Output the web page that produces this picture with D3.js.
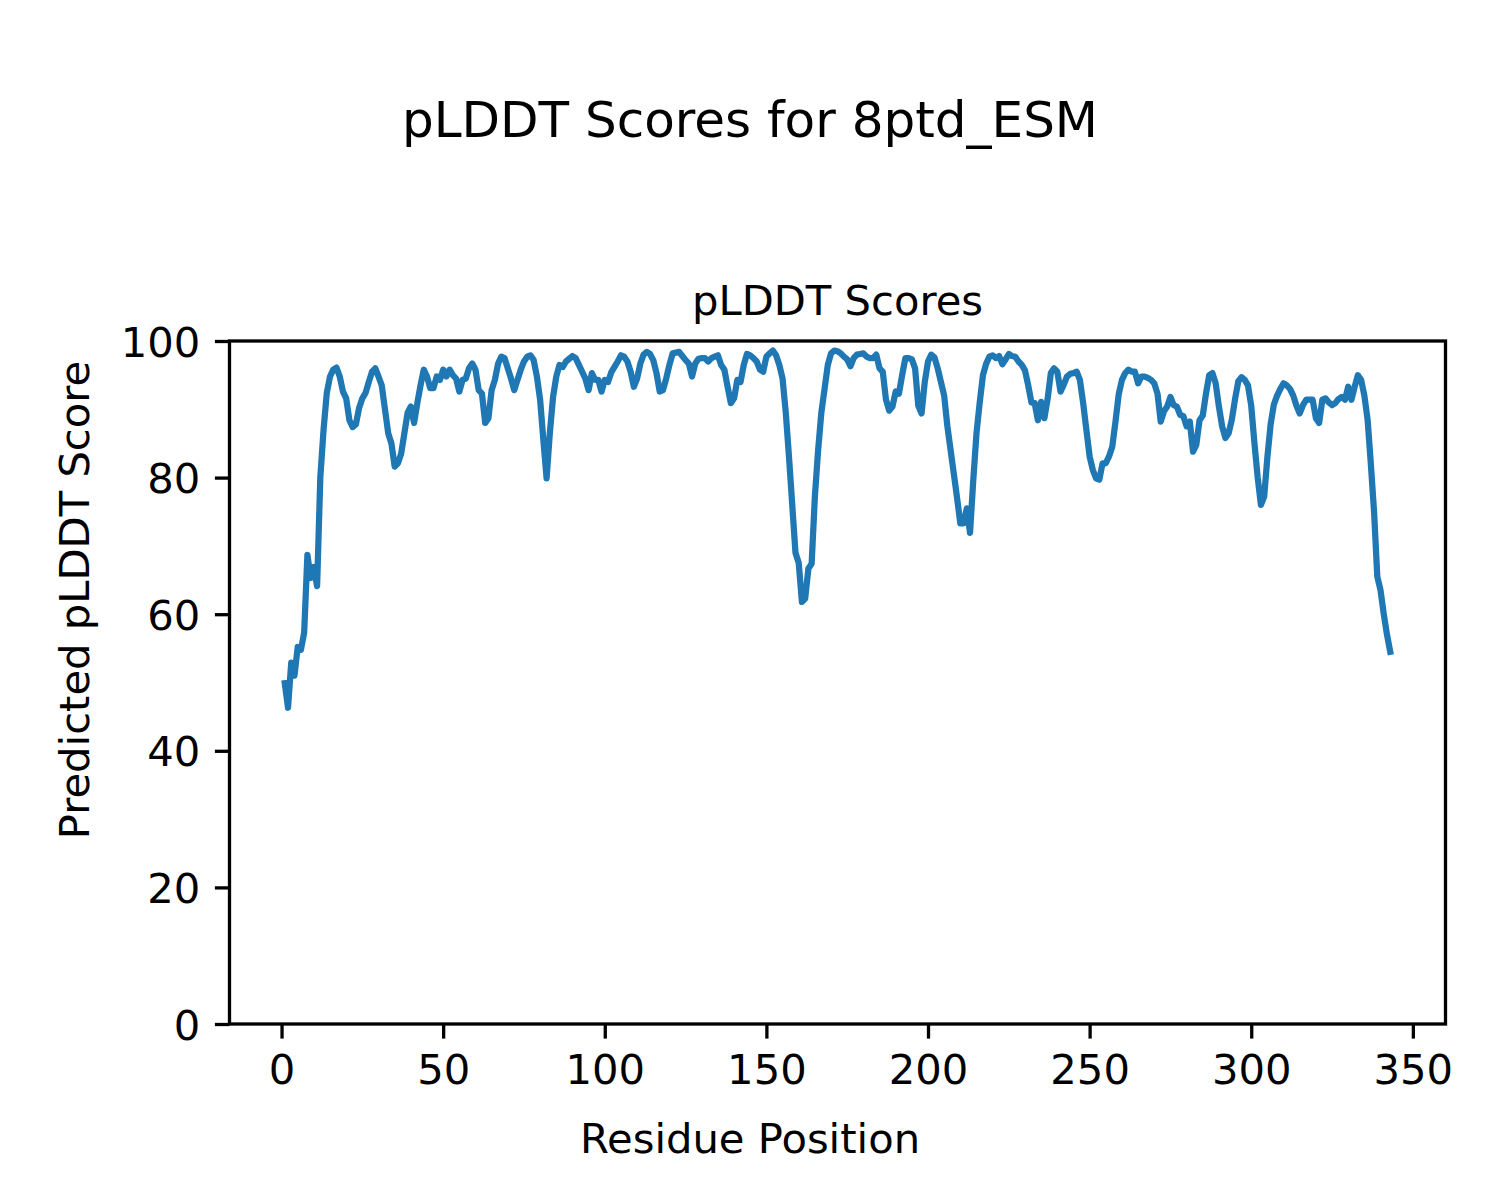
<!DOCTYPE html>
<html>
<head>
<meta charset="utf-8">
<script src="https://cdn.jsdelivr.net/npm/d3@7"></script>
<style>
  html, body { margin: 0; padding: 0; background: #fff; }
  svg { display: block; font-family: "DejaVu Sans", sans-serif; }
</style>
</head>
<body>
<svg id="chart" width="1500" height="1200"></svg>
<script>
// ---- data ----
const suptitle = "pLDDT Scores for 8ptd_ESM";
const axTitle = "pLDDT Scores";
const xLabel = "Residue Position";
const yLabel = "Predicted pLDDT Score";
const xTicks = [0, 50, 100, 150, 200, 250, 300, 350];
const yTicks = [0, 20, 40, 60, 80, 100];
const startResidue = 1;
const plddt = [
  49.9, 46.3, 52.9, 51.0, 55.2, 54.8, 57.3, 68.7, 65.3, 66.9,
  64.1, 80.1, 87.0, 92.4, 94.8, 95.8, 96.1, 94.8, 92.6, 91.6,
  88.4, 87.4, 87.8, 90.2, 91.6, 92.4, 94.0, 95.5, 96.0, 94.8,
  93.5, 90.0, 86.5, 85.0, 81.6, 82.1, 83.5, 86.5, 89.5, 90.4,
  88.0, 90.9, 93.5, 95.8, 94.8, 93.1, 93.1, 94.8, 94.3, 95.8,
  94.8, 95.8, 95.0, 94.5, 92.6, 94.3, 94.5, 96.0, 96.7, 95.8,
  92.8, 92.3, 88.0, 88.7, 92.8, 94.3, 96.7, 97.7, 97.5, 96.0,
  94.5, 92.8, 94.3, 95.8, 97.0, 97.7, 97.9, 97.2, 94.8, 91.4,
  85.5, 79.9, 86.5, 91.8, 94.8, 96.5, 96.2, 97.0, 97.4, 97.8,
  97.5, 96.5, 95.5, 94.5, 92.8, 95.3, 94.3, 94.3, 92.6, 94.3,
  94.0, 95.4, 96.2, 97.0, 97.9, 97.7, 97.0, 95.5, 93.3, 94.5,
  96.7, 98.0, 98.4, 98.1, 97.2, 95.3, 92.6, 92.8, 94.5, 96.5,
  98.2, 98.3, 98.4, 97.8, 97.2, 96.7, 94.8, 96.7, 97.4, 97.5,
  97.5, 97.0, 97.5, 97.7, 97.9, 96.5, 95.8, 93.3, 90.9, 91.6,
  94.3, 94.0, 96.5, 98.1, 97.9, 97.5, 97.0, 95.8, 95.5, 97.7,
  98.2, 98.6, 97.9, 96.5, 94.5, 89.5, 83.0, 76.0, 69.0, 67.5,
  61.8, 62.3, 66.7, 67.4, 77.2, 84.0, 89.5, 93.0, 96.5, 98.2,
  98.6, 98.5, 98.2, 97.7, 97.3, 96.3, 97.5, 98.0, 98.1, 98.2,
  97.7, 97.5, 97.5, 98.0, 96.0, 95.5, 91.4, 89.8, 90.4, 92.6,
  92.3, 95.0, 97.5, 97.5, 97.3, 96.0, 90.5, 89.4, 94.0, 97.0,
  98.0, 97.6, 96.0, 94.0, 92.0, 87.5, 84.0, 80.5, 77.0, 73.3,
  73.3, 75.5, 71.9, 79.6, 86.5, 91.0, 95.0, 96.7, 97.7, 97.9,
  97.5, 97.8, 96.6, 97.3, 98.1, 97.8, 97.7, 97.0, 96.5, 95.7,
  93.5, 91.0, 90.9, 88.4, 91.1, 88.7, 91.5, 95.3, 96.0, 95.5,
  92.6, 93.6, 94.8, 95.2, 95.3, 95.5, 94.3, 90.9, 87.0, 83.1,
  81.1, 79.9, 79.7, 82.1, 82.1, 83.1, 84.5, 88.2, 92.2, 94.3,
  95.3, 95.8, 95.5, 95.5, 93.8, 94.8, 94.8, 94.6, 94.3, 93.8,
  92.3, 88.2, 89.7, 90.4, 91.8, 90.6, 90.4, 89.2, 89.0, 87.5,
  88.2, 83.8, 84.8, 88.4, 89.1, 92.3, 95.0, 95.3, 93.8, 90.4,
  87.5, 85.8, 86.5, 88.5, 91.5, 94.1, 94.7, 94.3, 93.5, 90.5,
  85.0, 80.0, 76.0, 77.2, 83.0, 87.8, 90.7, 92.0, 93.0, 93.8,
  93.5, 93.0, 92.0, 90.5, 89.4, 90.6, 91.4, 91.4, 91.4, 88.7,
  88.0, 91.4, 91.6, 91.0, 90.6, 90.9, 91.5, 91.8, 91.4, 93.3,
  91.4, 93.3, 95.0, 94.3, 92.0, 88.5, 82.0, 75.0, 65.5, 63.5,
  60.0, 57.0, 54.5
];

// ---- layout ----
const svg = d3.select("#chart");
const M = { left: 229.5, right: 1445.5, top: 341, bottom: 1024 };
const n = plddt.length;
const xMin = startResidue, xMax = startResidue + n - 1;
const pad = (xMax - xMin) * 0.05;
const x = d3.scaleLinear().domain([xMin - pad, xMax + pad]).range([M.left, M.right]);
const y = d3.scaleLinear().domain([0, 100]).range([M.bottom, M.top]);

const tickLen = 14.6, tickPad = 14.6, fs = 41.7;

// line
const line = d3.line()
  .x((d, i) => x(startResidue + i))
  .y(d => y(d));
svg.append("path")
  .datum(plddt)
  .attr("d", line)
  .attr("fill", "none")
  .attr("stroke", "#1f77b4")
  .attr("stroke-width", 6.25)
  .attr("stroke-linejoin", "round")
  .attr("stroke-linecap", "square");

// axes
const xAxis = d3.axisBottom(x).tickValues(xTicks).tickSize(tickLen).tickPadding(tickPad).tickFormat(d3.format("d"));
const gx = svg.append("g").attr("transform", `translate(0,${M.bottom})`).call(xAxis);
gx.select(".domain").remove();
gx.selectAll(".tick line").attr("stroke", "#000").attr("stroke-width", 3.3);
gx.selectAll(".tick text").attr("fill", "#000").style("font-size", fs + "px")
  .attr("font-family", "DejaVu Sans").attr("dy", null).attr("y", 0)
  .attr("transform", `translate(0,${tickLen + tickPad + 30.4})`);

const yAxis = d3.axisLeft(y).tickValues(yTicks).tickSize(tickLen).tickPadding(tickPad).tickFormat(d3.format("d"));
const gy = svg.append("g").attr("transform", `translate(${M.left},0)`).call(yAxis);
gy.select(".domain").remove();
gy.selectAll(".tick line").attr("stroke", "#000").attr("stroke-width", 3.3);
gy.selectAll(".tick text").attr("fill", "#000").style("font-size", fs + "px")
  .attr("font-family", "DejaVu Sans").attr("dy", "0.36em");

// frame
svg.append("rect")
  .attr("x", M.left).attr("y", M.top)
  .attr("width", M.right - M.left).attr("height", M.bottom - M.top)
  .attr("fill", "none").attr("stroke", "#000").attr("stroke-width", 3.3);

// titles
svg.append("text").attr("x", 750).attr("y", 137).attr("text-anchor", "middle")
  .style("font-size", "50px").text(suptitle);
svg.append("text").attr("x", (M.left + M.right) / 2).attr("y", 315).attr("text-anchor", "middle")
  .style("font-size", "41.7px").text(axTitle);
svg.append("text").attr("x", 750).attr("y", 1153).attr("text-anchor", "middle")
  .style("font-size", fs + "px").text(xLabel);
svg.append("text").attr("transform", "translate(89,600) rotate(-90)").attr("text-anchor", "middle")
  .style("font-size", fs + "px").text(yLabel);
</script>
</body>
</html>
